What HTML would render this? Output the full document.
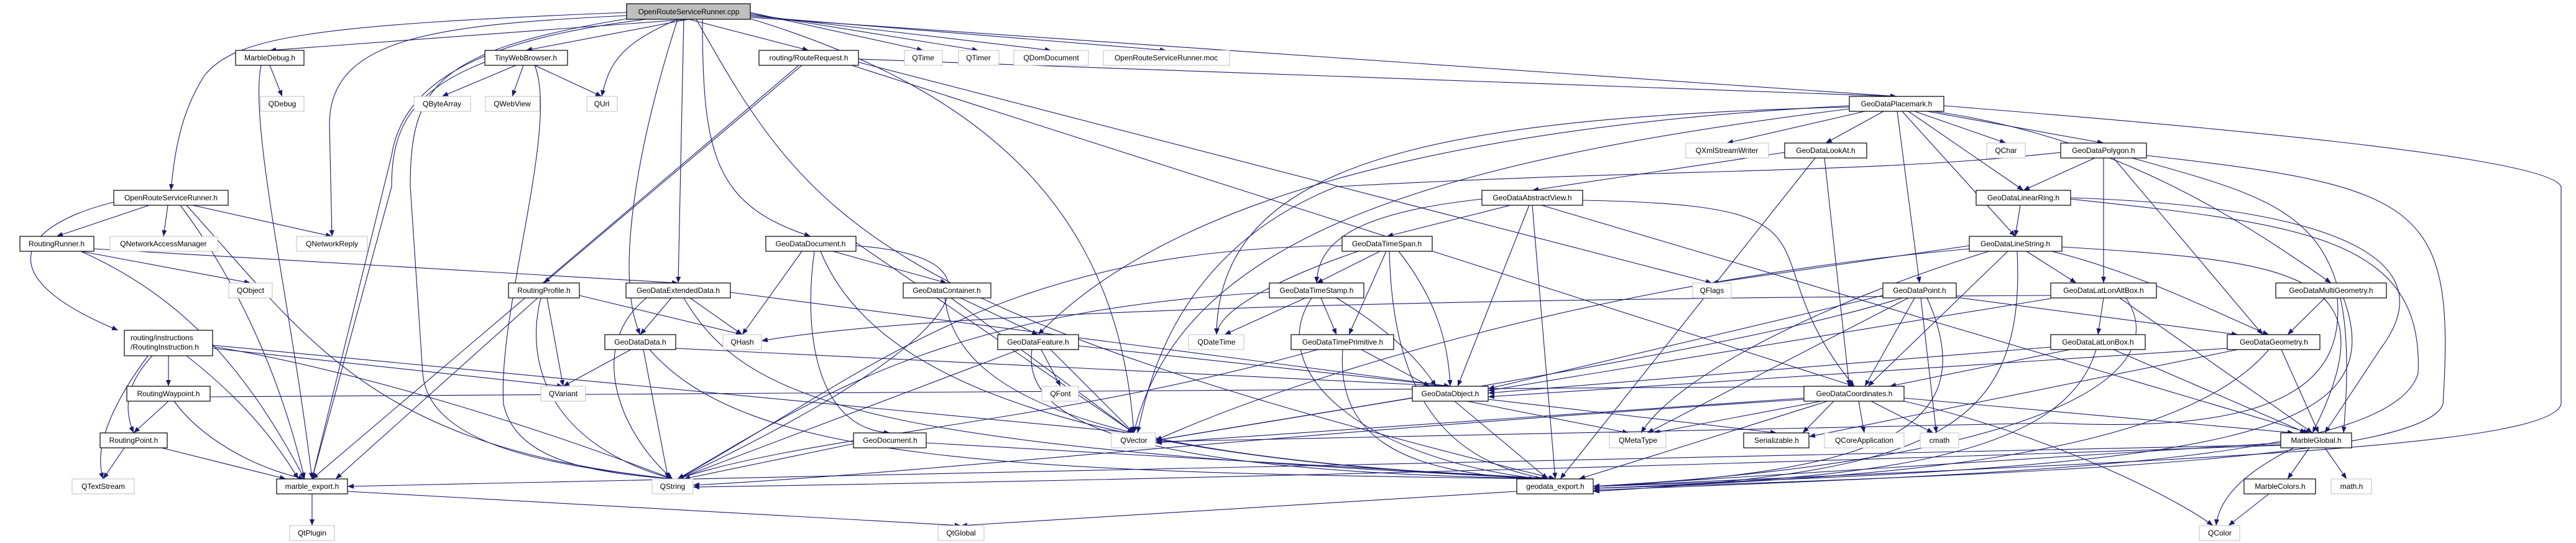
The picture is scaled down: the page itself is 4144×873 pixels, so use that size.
<!DOCTYPE html>
<html><head><meta charset="utf-8"><style>
html,body{margin:0;padding:0;background:#fff;}
svg{display:block;}
text{font-family:"Liberation Sans",sans-serif;font-size:12px;fill:#000;text-anchor:middle;}
.e{stroke:#191970;stroke-width:1.1;fill:none;marker-end:url(#ah);}
.p{fill:#fff;stroke:#000;stroke-width:1.2;}
.x{fill:#fff;stroke:#bfbfbf;stroke-width:1;}
</style></head><body>
<svg width="4144" height="873" viewBox="0 0 4144 873" xmlns="http://www.w3.org/2000/svg">
<defs><marker id="ah" markerWidth="10" markerHeight="8" refX="10" refY="4" orient="auto" markerUnits="userSpaceOnUse"><path d="M0,0 L10,4 L0,8 z" fill="#191970"/></marker></defs>
<g>
<!-- A -->
<path class="e" d="M1108 31 L434 81"/>
<path class="e" d="M1108 31 L846 81"/>
<path class="e" d="M1108 31 L1301 81"/>
<path class="e" d="M1207 20 L1485 81"/>
<path class="e" d="M1207 22 L1574 81"/>
<path class="e" d="M1207 24 L1691 81"/>
<path class="e" d="M1207 26 L1876 81"/>
<path class="e" d="M1009 20 C500 40 380 60 330 120 C290 180 280 250 275 306"/>
<path class="e" d="M1009 25 C700 40 530 60 530 200 L534 380"/>
<path class="e" d="M1090 31 C1000 70 980 100 968 155"/>
<path class="e" d="M1040 31 C800 60 650 120 630 250 L502 770"/>
<path class="e" d="M1010 30 C700 80 660 140 660 300 L680 600 C690 720 900 750 1082 770"/>
<path class="e" d="M1130 31 C1130 250 1150 330 1304 380"/>
<path class="e" d="M1100 31 L1091 455"/>
<path class="e" d="M1090 31 C1020 250 990 450 1030 538"/>
<path class="e" d="M1207 28 L3051 155"/>
<path class="e" d="M1120 31 C1300 350 1400 500 2502 770"/>
<path class="e" d="M1207 30 C1600 150 1800 350 1824 696"/>
<path class="e" d="M434 105 L454 155"/>
<path class="e" d="M420 105 C400 200 470 500 502 770"/>
<path class="e" d="M830 105 L711 155"/>
<path class="e" d="M842 105 L824 155"/>
<path class="e" d="M860 105 L968 155"/>
<path class="e" d="M780 100 C650 150 630 220 630 300 L502 770"/>
<path class="e" d="M860 105 C900 200 800 500 810 650 C830 740 950 760 1082 770"/>
<path class="e" d="M1381 95 L3051 155"/>
<path class="e" d="M1290 105 L875 455"/>
<path class="e" d="M1285 105 L502 770"/>
<path class="e" d="M1370 105 L2983 621"/>
<path class="e" d="M1381 100 L2754 455"/>
<!-- ORSh -->
<path class="e" d="M240 330 L91 380"/>
<path class="e" d="M270 330 L263 380"/>
<path class="e" d="M310 330 L534 380"/>
<path class="e" d="M183 325 C40 360 -30 440 190 531"/>
<path class="e" d="M290 330 C380 450 450 600 490 770"/>
<path class="e" d="M300 330 C500 550 600 720 1082 770"/>
<path class="e" d="M130 404 L403 455"/>
<path class="e" d="M151 400 L1091 455"/>
<path class="e" d="M130 404 C300 480 400 600 490 770"/>
<!-- RI -->
<path class="e" d="M271 572 L271 621"/>
<path class="e" d="M245 572 C200 620 200 660 215 696"/>
<path class="e" d="M238 572 C180 650 150 720 166 770"/>
<path class="e" d="M300 572 C400 650 450 720 480 770"/>
<path class="e" d="M342 560 L906 621"/>
<path class="e" d="M342 555 L1824 696"/>
<path class="e" d="M342 557 C600 600 900 700 1082 770"/>
<path class="e" d="M271 645 L215 696"/>
<path class="e" d="M280 645 C320 700 400 750 490 770"/>
<path class="e" d="M338 638 L2983 621"/>
<path class="e" d="M200 720 L166 770"/>
<path class="e" d="M260 720 L460 770"/>
<!-- RP -->
<path class="e" d="M932 475 L1194 538"/>
<path class="e" d="M880 479 L906 621"/>
<path class="e" d="M870 479 C840 600 900 720 1082 770"/>
<path class="e" d="M865 479 L540 770"/>
<!-- ED -->
<path class="e" d="M1080 479 L1030 538"/>
<path class="e" d="M1110 479 L1194 538"/>
<path class="e" d="M1040 479 C940 560 1000 700 1082 770"/>
<path class="e" d="M1175 470 L2333 621"/>
<path class="e" d="M1100 479 C1200 650 1400 720 2502 770"/>
<!-- DD -->
<path class="e" d="M1015 562 L906 621"/>
<path class="e" d="M1035 562 L1075 770"/>
<path class="e" d="M1087 560 L2333 621"/>
<path class="e" d="M1045 562 C1200 740 1600 760 2502 770"/>
<!-- DOC -->
<path class="e" d="M1290 404 L1194 538"/>
<path class="e" d="M1340 404 L1523 455"/>
<path class="e" d="M1310 404 C1290 550 1320 690 1432 696"/>
<path class="e" d="M1320 404 C1400 600 1700 740 2502 770"/>
<path class="e" d="M1377 390 L1824 696"/>
<path class="e" d="M1377 395 C1700 420 1450 600 1090 770"/>
<!-- CT -->
<path class="e" d="M1545 479 L1670 538"/>
<path class="e" d="M1530 479 L1824 696"/>
<path class="e" d="M1520 479 C1540 650 1800 740 2502 770"/>
<!-- FE -->
<path class="e" d="M1675 562 L1706 621"/>
<path class="e" d="M1735 556 L2333 621"/>
<path class="e" d="M1640 562 L1090 770"/>
<path class="e" d="M1660 562 C1640 700 1900 760 2502 770"/>
<path class="e" d="M1690 562 L1824 696"/>
<!-- GD -->
<path class="e" d="M1490 712 L2502 770"/>
<path class="e" d="M1380 712 L1100 770"/>
<!-- ME -->
<path class="e" d="M502 794 L502 845"/>
<path class="e" d="M559 790 L1546 845"/>
<path class="e" d="M2440 790 L1546 845"/>
<!-- PM -->
<path class="e" d="M3000 179 L2778 230"/>
<path class="e" d="M3030 179 L2937 230"/>
<path class="e" d="M3080 179 L3227 230"/>
<path class="e" d="M3100 179 L3384 230"/>
<path class="e" d="M3070 179 L3255 306"/>
<path class="e" d="M3060 179 L3242 380"/>
<path class="e" d="M3052 179 L3088 455"/>
<path class="e" d="M3110 179 C3400 220 3600 350 3750 455"/>
<path class="e" d="M2975 170 C2400 200 1900 300 1670 538"/>
<path class="e" d="M2975 172 C2300 190 1960 260 1957 538"/>
<path class="e" d="M3127 170 C3500 200 4100 250 4120 300 L4120 650 C4100 720 3500 740 2563 782"/>
<path class="e" d="M2975 175 C2300 260 1900 380 1824 696"/>
<!-- LA -->
<path class="e" d="M2871 245 L2465 306"/>
<path class="e" d="M2935 254 L2975 621"/>
<path class="e" d="M2920 254 L2510 770"/>
<!-- AV -->
<path class="e" d="M2430 330 L2231 380"/>
<path class="e" d="M2384 320 C2200 340 2120 380 2118 455"/>
<path class="e" d="M2460 330 L2345 621"/>
<path class="e" d="M2465 330 L2502 770"/>
<path class="e" d="M2480 330 L3715 696"/>
<path class="e" d="M2546 322 C3000 330 2800 400 2983 621"/>
<!-- TS -->
<path class="e" d="M2220 404 L2118 455"/>
<path class="e" d="M2230 404 L2170 538"/>
<path class="e" d="M2185 404 C2050 450 1960 500 1957 538"/>
<path class="e" d="M2250 404 C2310 480 2330 550 2333 621"/>
<path class="e" d="M2235 404 C2240 600 2300 740 2490 770"/>
<path class="e" d="M2159 395 C1600 400 1400 600 1090 770"/>
<!-- TST -->
<path class="e" d="M2100 479 L1970 538"/>
<path class="e" d="M2125 479 L2150 538"/>
<path class="e" d="M2150 479 C2250 540 2290 590 2310 621"/>
<path class="e" d="M2110 479 C2030 600 2200 740 2480 770"/>
<path class="e" d="M2042 470 C1500 500 1300 650 1090 770"/>
<!-- TP -->
<path class="e" d="M2190 562 L2300 621"/>
<path class="e" d="M2160 562 C2150 700 2250 760 2470 770"/>
<path class="e" d="M2120 562 C1700 680 1300 700 1090 770"/>
<!-- OB -->
<path class="e" d="M2360 645 L2620 696"/>
<path class="e" d="M2340 645 L2490 770"/>
<path class="e" d="M2272 640 L1859 708"/>
<path class="e" d="M2394 642 L2858 696"/>
<!-- PG -->
<path class="e" d="M3370 254 L3255 306"/>
<path class="e" d="M3384 254 L3384 455"/>
<path class="e" d="M3400 254 L3640 538"/>
<path class="e" d="M3430 254 C3700 330 3800 350 3770 696"/>
<path class="e" d="M3453 250 C3900 300 3950 330 3930 650 C3900 730 3400 760 2563 785"/>
<path class="e" d="M3315 245 C3000 280 2700 270 2150 300 C1900 400 1850 600 1830 696"/>
<!-- LR -->
<path class="e" d="M3250 330 L3242 380"/>
<path class="e" d="M3331 318 C3700 330 3950 400 3830 560 L3740 696"/>
<path class="e" d="M3331 320 C3700 360 3900 380 3890 600 C3850 740 3300 760 2563 788"/>
<!-- LS -->
<path class="e" d="M3260 404 L3340 455"/>
<path class="e" d="M3300 404 C3450 440 3600 520 3650 538"/>
<path class="e" d="M3230 404 L3005 621"/>
<path class="e" d="M3168 395 L2754 455"/>
<path class="e" d="M3317 397 C3700 420 3850 440 3720 696"/>
<path class="e" d="M3245 404 C3260 700 3100 760 2563 790"/>
<path class="e" d="M3168 400 C2600 450 2100 600 1859 708"/>
<path class="e" d="M3200 404 C2950 480 2700 600 2640 696"/>
<!-- PT -->
<path class="e" d="M3080 479 L3000 621"/>
<path class="e" d="M3147 478 L3600 538"/>
<path class="e" d="M3090 479 L3115 696"/>
<path class="e" d="M3070 479 L2650 696"/>
<path class="e" d="M3100 479 C3200 700 3000 760 2563 782"/>
<path class="e" d="M3029 475 L2394 625"/>
<path class="e" d="M3060 479 C2800 560 2200 650 1859 708"/>
<!-- LLA -->
<path class="e" d="M3384 479 L3375 538"/>
<path class="e" d="M3410 479 L3720 696"/>
<path class="e" d="M3420 479 C3500 600 3300 740 2563 782"/>
<path class="e" d="M3299 480 L2394 628"/>
<path class="e" d="M3299 475 C2300 480 1500 500 1225 548"/>
<!-- LLB -->
<path class="e" d="M3330 562 L3040 621"/>
<path class="e" d="M3400 562 L3710 696"/>
<path class="e" d="M3372 562 C3320 740 3000 770 2563 785"/>
<path class="e" d="M3299 558 L2394 632"/>
<!-- MG -->
<path class="e" d="M3740 479 L3680 538"/>
<path class="e" d="M3760 479 C3770 600 3700 700 3300 680 L1859 710"/>
<path class="e" d="M3770 479 C3850 700 3600 750 2563 782"/>
<!-- GE -->
<path class="e" d="M3670 562 L3730 696"/>
<path class="e" d="M3583 560 L2394 638"/>
<path class="e" d="M3600 562 L2910 702"/>
<path class="e" d="M3650 562 C3500 740 3000 770 2563 785"/>
<!-- CO -->
<path class="e" d="M2950 645 L2900 696"/>
<path class="e" d="M2990 645 L2999 696"/>
<path class="e" d="M3010 645 L3110 696"/>
<path class="e" d="M3063 640 L3690 696"/>
<path class="e" d="M2930 645 L2660 696"/>
<path class="e" d="M2902 640 L1859 712"/>
<path class="e" d="M2940 645 L2540 770"/>
<path class="e" d="M2902 642 C2000 700 1500 760 1115 780"/>
<path class="e" d="M3063 645 C3300 700 3500 800 3560 845"/>
<!-- MGl -->
<path class="e" d="M3715 720 L3680 770"/>
<path class="e" d="M3740 720 L3775 770"/>
<path class="e" d="M3690 720 C3610 760 3570 800 3565 845"/>
<path class="e" d="M3669 712 L2563 782"/>
<path class="e" d="M3669 715 C2500 740 1500 760 559 782"/>
<path class="e" d="M3669 716 C3000 740 2000 770 1115 783"/>
<path class="e" d="M3650 794 L3585 845"/>
</g>
<g>
<rect x="1008" y="6" width="199" height="25" fill="#bfbfbf" stroke="#000" stroke-width="1.2"/><text x="1108" y="23">OpenRouteServiceRunner.cpp</text>
<rect class="p" x="379" y="81" width="110" height="24"/><text x="434" y="97">MarbleDebug.h</text>
<rect class="p" x="780" y="81" width="133" height="24"/><text x="846" y="97">TinyWebBrowser.h</text>
<rect class="p" x="1221" y="81" width="160" height="24"/><text x="1301" y="97">routing/RouteRequest.h</text>
<rect class="x" x="1455" y="81" width="61" height="24"/><text x="1485" y="97">QTime</text>
<rect class="x" x="1542" y="81" width="65" height="24"/><text x="1574" y="97">QTimer</text>
<rect class="x" x="1631" y="81" width="120" height="24"/><text x="1691" y="97">QDomDocument</text>
<rect class="x" x="1775" y="81" width="203" height="24"/><text x="1876" y="97">OpenRouteServiceRunner.moc</text>
<rect class="x" x="419" y="155" width="70" height="24"/><text x="454" y="171">QDebug</text>
<rect class="x" x="666" y="155" width="91" height="24"/><text x="711" y="171">QByteArray</text>
<rect class="x" x="781" y="155" width="87" height="24"/><text x="824" y="171">QWebView</text>
<rect class="x" x="944" y="155" width="49" height="24"/><text x="968" y="171">QUrl</text>
<rect class="p" x="2975" y="155" width="152" height="24"/><text x="3051" y="171">GeoDataPlacemark.h</text>
<rect class="x" x="2712" y="230" width="133" height="24"/><text x="2778" y="246">QXmlStreamWriter</text>
<rect class="p" x="2871" y="230" width="132" height="24"/><text x="2937" y="246">GeoDataLookAt.h</text>
<rect class="x" x="3196" y="230" width="62" height="24"/><text x="3227" y="246">QChar</text>
<rect class="p" x="3315" y="230" width="138" height="24"/><text x="3384" y="246">GeoDataPolygon.h</text>
<rect class="p" x="183" y="306" width="184" height="24"/><text x="275" y="322">OpenRouteServiceRunner.h</text>
<rect class="p" x="2384" y="306" width="162" height="24"/><text x="2465" y="322">GeoDataAbstractView.h</text>
<rect class="p" x="3179" y="306" width="152" height="24"/><text x="3255" y="322">GeoDataLinearRing.h</text>
<rect class="p" x="32" y="380" width="119" height="24"/><text x="91" y="396">RoutingRunner.h</text>
<rect class="x" x="177" y="380" width="173" height="24"/><text x="263" y="396">QNetworkAccessManager</text>
<rect class="x" x="477" y="380" width="114" height="24"/><text x="534" y="396">QNetworkReply</text>
<rect class="p" x="1232" y="380" width="145" height="24"/><text x="1304" y="396">GeoDataDocument.h</text>
<rect class="p" x="2159" y="380" width="145" height="24"/><text x="2231" y="396">GeoDataTimeSpan.h</text>
<rect class="p" x="3168" y="380" width="149" height="24"/><text x="3242" y="396">GeoDataLineString.h</text>
<rect class="x" x="368" y="455" width="70" height="24"/><text x="403" y="471">QObject</text>
<rect class="p" x="818" y="455" width="114" height="24"/><text x="875" y="471">RoutingProfile.h</text>
<rect class="p" x="1007" y="455" width="168" height="24"/><text x="1091" y="471">GeoDataExtendedData.h</text>
<rect class="p" x="1453" y="455" width="141" height="24"/><text x="1523" y="471">GeoDataContainer.h</text>
<rect class="p" x="2042" y="455" width="152" height="24"/><text x="2118" y="471">GeoDataTimeStamp.h</text>
<rect class="x" x="2723" y="455" width="62" height="24"/><text x="2754" y="471">QFlags</text>
<rect class="p" x="3029" y="455" width="118" height="24"/><text x="3088" y="471">GeoDataPoint.h</text>
<rect class="p" x="3299" y="455" width="170" height="24"/><text x="3384" y="471">GeoDataLatLonAltBox.h</text>
<rect class="p" x="3661" y="455" width="178" height="24"/><text x="3750" y="471">GeoDataMultiGeometry.h</text>
<rect class="p" x="200" y="531" width="142" height="41"/><text x="210" y="547" style="text-anchor:start">routing/instructions</text><text x="210" y="562" style="text-anchor:start">/RoutingInstruction.h</text>
<rect class="p" x="973" y="538" width="114" height="24"/><text x="1030" y="554">GeoDataData.h</text>
<rect class="x" x="1163" y="538" width="62" height="24"/><text x="1194" y="554">QHash</text>
<rect class="p" x="1605" y="538" width="130" height="24"/><text x="1670" y="554">GeoDataFeature.h</text>
<rect class="x" x="1912" y="538" width="89" height="24"/><text x="1957" y="554">QDateTime</text>
<rect class="p" x="2077" y="538" width="165" height="24"/><text x="2160" y="554">GeoDataTimePrimitive.h</text>
<rect class="p" x="3299" y="538" width="152" height="24"/><text x="3375" y="554">GeoDataLatLonBox.h</text>
<rect class="p" x="3583" y="538" width="149" height="24"/><text x="3658" y="554">GeoDataGeometry.h</text>
<rect class="p" x="204" y="621" width="134" height="24"/><text x="271" y="637">RoutingWaypoint.h</text>
<rect class="x" x="870" y="621" width="72" height="24"/><text x="906" y="637">QVariant</text>
<rect class="x" x="1676" y="621" width="59" height="24"/><text x="1706" y="637">QFont</text>
<rect class="p" x="2272" y="621" width="122" height="24"/><text x="2333" y="637">GeoDataObject.h</text>
<rect class="p" x="2902" y="621" width="161" height="24"/><text x="2983" y="637">GeoDataCoordinates.h</text>
<rect class="p" x="161" y="696" width="108" height="24"/><text x="215" y="712">RoutingPoint.h</text>
<rect class="p" x="1373" y="696" width="117" height="24"/><text x="1432" y="712">GeoDocument.h</text>
<rect class="x" x="1788" y="696" width="71" height="24"/><text x="1824" y="712">QVector</text>
<rect class="x" x="2589" y="696" width="91" height="24"/><text x="2635" y="712">QMetaType</text>
<rect class="p" x="2805" y="696" width="105" height="24"/><text x="2858" y="712">Serializable.h</text>
<rect class="x" x="2935" y="696" width="128" height="24"/><text x="2999" y="712">QCoreApplication</text>
<rect class="x" x="3089" y="696" width="62" height="24"/><text x="3120" y="712">cmath</text>
<rect class="p" x="3669" y="696" width="114" height="24"/><text x="3726" y="712">MarbleGlobal.h</text>
<rect class="x" x="116" y="770" width="100" height="24"/><text x="166" y="786">QTextStream</text>
<rect class="p" x="445" y="770" width="114" height="24"/><text x="502" y="786">marble_export.h</text>
<rect class="x" x="1049" y="770" width="66" height="24"/><text x="1082" y="786">QString</text>
<rect class="p" x="2440" y="770" width="123" height="24"/><text x="2502" y="786">geodata_export.h</text>
<rect class="p" x="3610" y="770" width="115" height="24"/><text x="3668" y="786">MarbleColors.h</text>
<rect class="x" x="3750" y="770" width="65" height="24"/><text x="3783" y="786">math.h</text>
<rect class="x" x="466" y="845" width="72" height="24"/><text x="502" y="861">QtPlugin</text>
<rect class="x" x="1509" y="845" width="74" height="24"/><text x="1546" y="861">QtGlobal</text>
<rect class="x" x="3538" y="845" width="65" height="24"/><text x="3571" y="861">QColor</text>
</g>
</svg>
</body></html>
